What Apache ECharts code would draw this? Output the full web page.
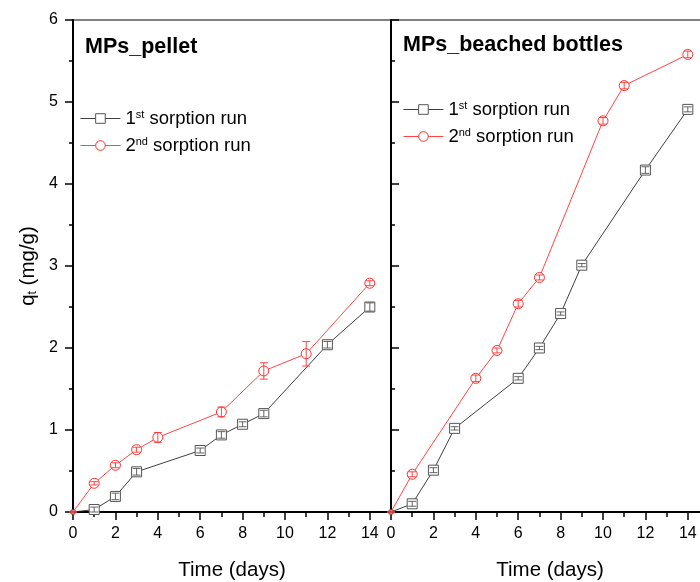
<!DOCTYPE html>
<html lang="en">
<head>
    <meta charset="UTF-8">
    <title>MPs sorption</title>
    <script src="https://cdn.jsdelivr.net/npm/echarts@6/dist/echarts.min.js"></script>
    <style>
        html, body { margin: 0; padding: 0; background: #fff; }
        #main { width: 700px; height: 582px; }
    </style>
</head>
<body>
<div id="main"></div>
<script>
    // MPs_pellet
    var pelletDays1 = [0, 1, 2, 3, 6, 7, 8, 9, 12, 14];
    var pelletRun1 = [0, 0.03, 0.19, 0.49, 0.75, 0.94, 1.07, 1.2, 2.04, 2.5];
    var pelletRun1Err = [0, 0.03, 0.04, 0.04, 0.03, 0.04, 0.03, 0.04, 0.04, 0.05];
    var pelletDays2 = [0, 1, 2, 3, 4, 7, 9, 11, 14];
    var pelletRun2 = [0, 0.35, 0.57, 0.76, 0.91, 1.22, 1.72, 1.93, 2.79];
    var pelletRun2Err = [0, 0.02, 0.03, 0.03, 0.06, 0.06, 0.1, 0.15, 0.03];

    // MPs_beached bottles
    var bottleDays1 = [0, 1, 2, 3, 6, 7, 8, 9, 12, 14];
    var bottleRun1 = [0, 0.1, 0.51, 1.02, 1.63, 2.0, 2.42, 3.01, 4.17, 4.91];
    var bottleRun1Err = [0, 0.03, 0.03, 0.02, 0.02, 0.02, 0.02, 0.02, 0.04, 0.03];
    var bottleDays2 = [0, 1, 4, 5, 6, 7, 10, 11, 14];
    var bottleRun2 = [0, 0.46, 1.63, 1.97, 2.54, 2.86, 4.77, 5.2, 5.58];
    var bottleRun2Err = [0, 0.03, 0.04, 0.03, 0.04, 0.03, 0.04, 0.04, 0.04];

    var panelTitles = ['MPs_pellet', 'MPs_beached bottles'];
    var runNames = ['1st sorption run', '2nd sorption run'];
    var xMajor = [0, 2, 4, 6, 8, 10, 12, 14];
    var xMinor = [1, 3, 5, 7, 9, 11, 13];

    var FONT = 'Liberation Sans, Arial, sans-serif';
    var BLACK = '#2a2a2a';
    var GREY = '#555';
    var RED = '#ff3030';

    function pts(xs, ys) {
        return xs.map(function (x, i) {
            // point at the origin is clipped by the axes in the original
            if (i === 0) return {value: [x, ys[i]], symbolSize: 4};
            return [x, ys[i]];
        });
    }
    function errs(xs, ys, es) {
        return xs.map(function (x, i) { return [x, ys[i] - es[i], ys[i] + es[i]]; });
    }

    function lineSeries(name, xs, ys, color, mark, symbol, axis) {
        return {
            name: name,
            type: 'line',
            xAxisIndex: axis,
            yAxisIndex: axis,
            data: pts(xs, ys),
            symbol: symbol,
            symbolSize: 10,
            showAllSymbol: true,
            lineStyle: {color: color, width: 0.9},
            itemStyle: {color: '#fff', borderColor: mark, borderWidth: 1},
            emphasis: {disabled: true},
            animation: false
        };
    }

    function errSeries(xs, ys, es, color, axis) {
        return {
            type: 'custom',
            xAxisIndex: axis,
            yAxisIndex: axis,
            z: 10,
            silent: true,
            animation: false,
            data: errs(xs, ys, es),
            encode: {x: 0, y: [1, 2]},
            renderItem: function (params, api) {
                var hi = api.coord([api.value(0), api.value(2)]);
                var lo = api.coord([api.value(0), api.value(1)]);
                var w = 4;
                var st = {stroke: color, lineWidth: 0.9};
                return {
                    type: 'group',
                    children: [
                        {type: 'line', shape: {x1: hi[0], y1: hi[1], x2: lo[0], y2: lo[1]}, style: st},
                        {type: 'line', shape: {x1: hi[0] - w, y1: hi[1], x2: hi[0] + w, y2: hi[1]}, style: st},
                        {type: 'line', shape: {x1: lo[0] - w, y1: lo[1], x2: lo[0] + w, y2: lo[1]}, style: st}
                    ]
                };
            }
        };
    }

    var legendRich = {
        a: {fontSize: 18.5, fontFamily: FONT, color: '#000'},
        s: {fontSize: 11, fontFamily: FONT, color: '#000', verticalAlign: 'top'}
    };
    function legendFmt(name) {
        var m = name.match(/^(\d)(st|nd) (.*)$/);
        return '{a|' + m[1] + '}{s|' + m[2] + '}{a| ' + m[3] + '}';
    }
    function legendAt(left, top) {
        return {
            orient: 'vertical',
            left: left,
            top: top,
            padding: 0,
            data: runNames,
            itemWidth: 40,
            itemHeight: 12,
            itemGap: 8,
            selectedMode: false,
            lineStyle: {width: 0.9},
            itemStyle: {borderWidth: 1},
            formatter: legendFmt,
            textStyle: {rich: legendRich}
        };
    }

    function mainX(gridIndex) {
        return {
            type: 'value',
            gridIndex: gridIndex,
            position: 'bottom',
            min: 0,
            max: 15,
            name: 'Time (days)',
            nameLocation: 'middle',
            nameGap: 48,
            nameTextStyle: {fontSize: 20.5, fontFamily: FONT, color: '#000'},
            axisLine: {show: true, onZero: false, lineStyle: {color: '#000', width: 2}},
            axisTick: {show: true, inside: false, length: 8, customValues: xMajor, lineStyle: {color: '#000', width: 1.5}},
            axisLabel: {customValues: xMajor, margin: 14, fontSize: 16, fontFamily: FONT, color: '#000'},
            splitLine: {show: false}
        };
    }
    function minorX(gridIndex) {
        return {
            type: 'value',
            gridIndex: gridIndex,
            position: 'bottom',
            min: 0,
            max: 15,
            axisLine: {show: false, onZero: false},
            axisTick: {show: true, inside: false, length: 5, customValues: xMinor, lineStyle: {color: '#000', width: 1.5}},
            axisLabel: {show: false},
            splitLine: {show: false}
        };
    }
    function yAx(gridIndex, inside) {
        var ax = {
            type: 'value',
            gridIndex: gridIndex,
            position: 'left',
            min: 0,
            max: 6,
            interval: 1,
            axisLine: {show: true, lineStyle: {color: '#000', width: 2}},
            axisTick: {show: true, inside: inside, length: 8, lineStyle: {color: '#000', width: 1.5}},
            minorTick: {show: true, splitNumber: 2, length: 4, lineStyle: {color: '#000', width: 1.5}},
            axisLabel: {show: !inside, margin: 15, fontSize: 16, fontFamily: FONT, color: '#000'},
            splitLine: {show: false}
        };
        if (!inside) {
            ax.name = '{q|q}{t|t}{q| (mg/g)}';
            ax.nameLocation = 'middle';
            ax.nameRotate = 90;
            ax.nameGap = 34;
            ax.nameTextStyle = {
                rich: {
                    q: {fontSize: 20.5, fontFamily: FONT, color: '#000'},
                    t: {fontSize: 12, fontFamily: FONT, color: '#000', verticalAlign: 'bottom'}
                }
            };
        }
        return ax;
    }

    var myChart = echarts.init(document.getElementById('main'), null, {renderer: 'canvas'});
    var option = {
        backgroundColor: '#fff',
        animation: false,
        title: [
            {text: panelTitles[0], left: 85, top: 36, padding: 0,
                textStyle: {fontSize: 21.5, fontWeight: 'bold', fontFamily: FONT, color: '#000'}},
            {text: panelTitles[1], left: 403, top: 34, padding: 0,
                textStyle: {fontSize: 21.5, fontWeight: 'bold', fontFamily: FONT, color: '#000'}}
        ],
        legend: [legendAt(80, 109), legendAt(403, 100)],
        grid: [
            {left: 73, top: 20, width: 318, height: 492, show: true, borderColor: '#000', borderWidth: 1,
                outerBoundsMode: 'none', containLabel: false},
            {left: 391, top: 20, width: 318, height: 492, show: true, borderColor: '#000', borderWidth: 1,
                outerBoundsMode: 'none', containLabel: false}
        ],
        xAxis: [mainX(0), mainX(1), minorX(0), minorX(1)],
        yAxis: [yAx(0, false), yAx(1, true)],
        series: [
            lineSeries(runNames[0], pelletDays1, pelletRun1, BLACK, GREY, 'rect', 0),
            lineSeries(runNames[1], pelletDays2, pelletRun2, RED, RED, 'circle', 0),
            lineSeries(runNames[0], bottleDays1, bottleRun1, BLACK, GREY, 'rect', 1),
            lineSeries(runNames[1], bottleDays2, bottleRun2, RED, RED, 'circle', 1),
            errSeries(pelletDays1, pelletRun1, pelletRun1Err, GREY, 0),
            errSeries(pelletDays2, pelletRun2, pelletRun2Err, RED, 0),
            errSeries(bottleDays1, bottleRun1, bottleRun1Err, GREY, 1),
            errSeries(bottleDays2, bottleRun2, bottleRun2Err, RED, 1)
        ]
    };
    myChart.setOption(option);
</script>
</body>
</html>
